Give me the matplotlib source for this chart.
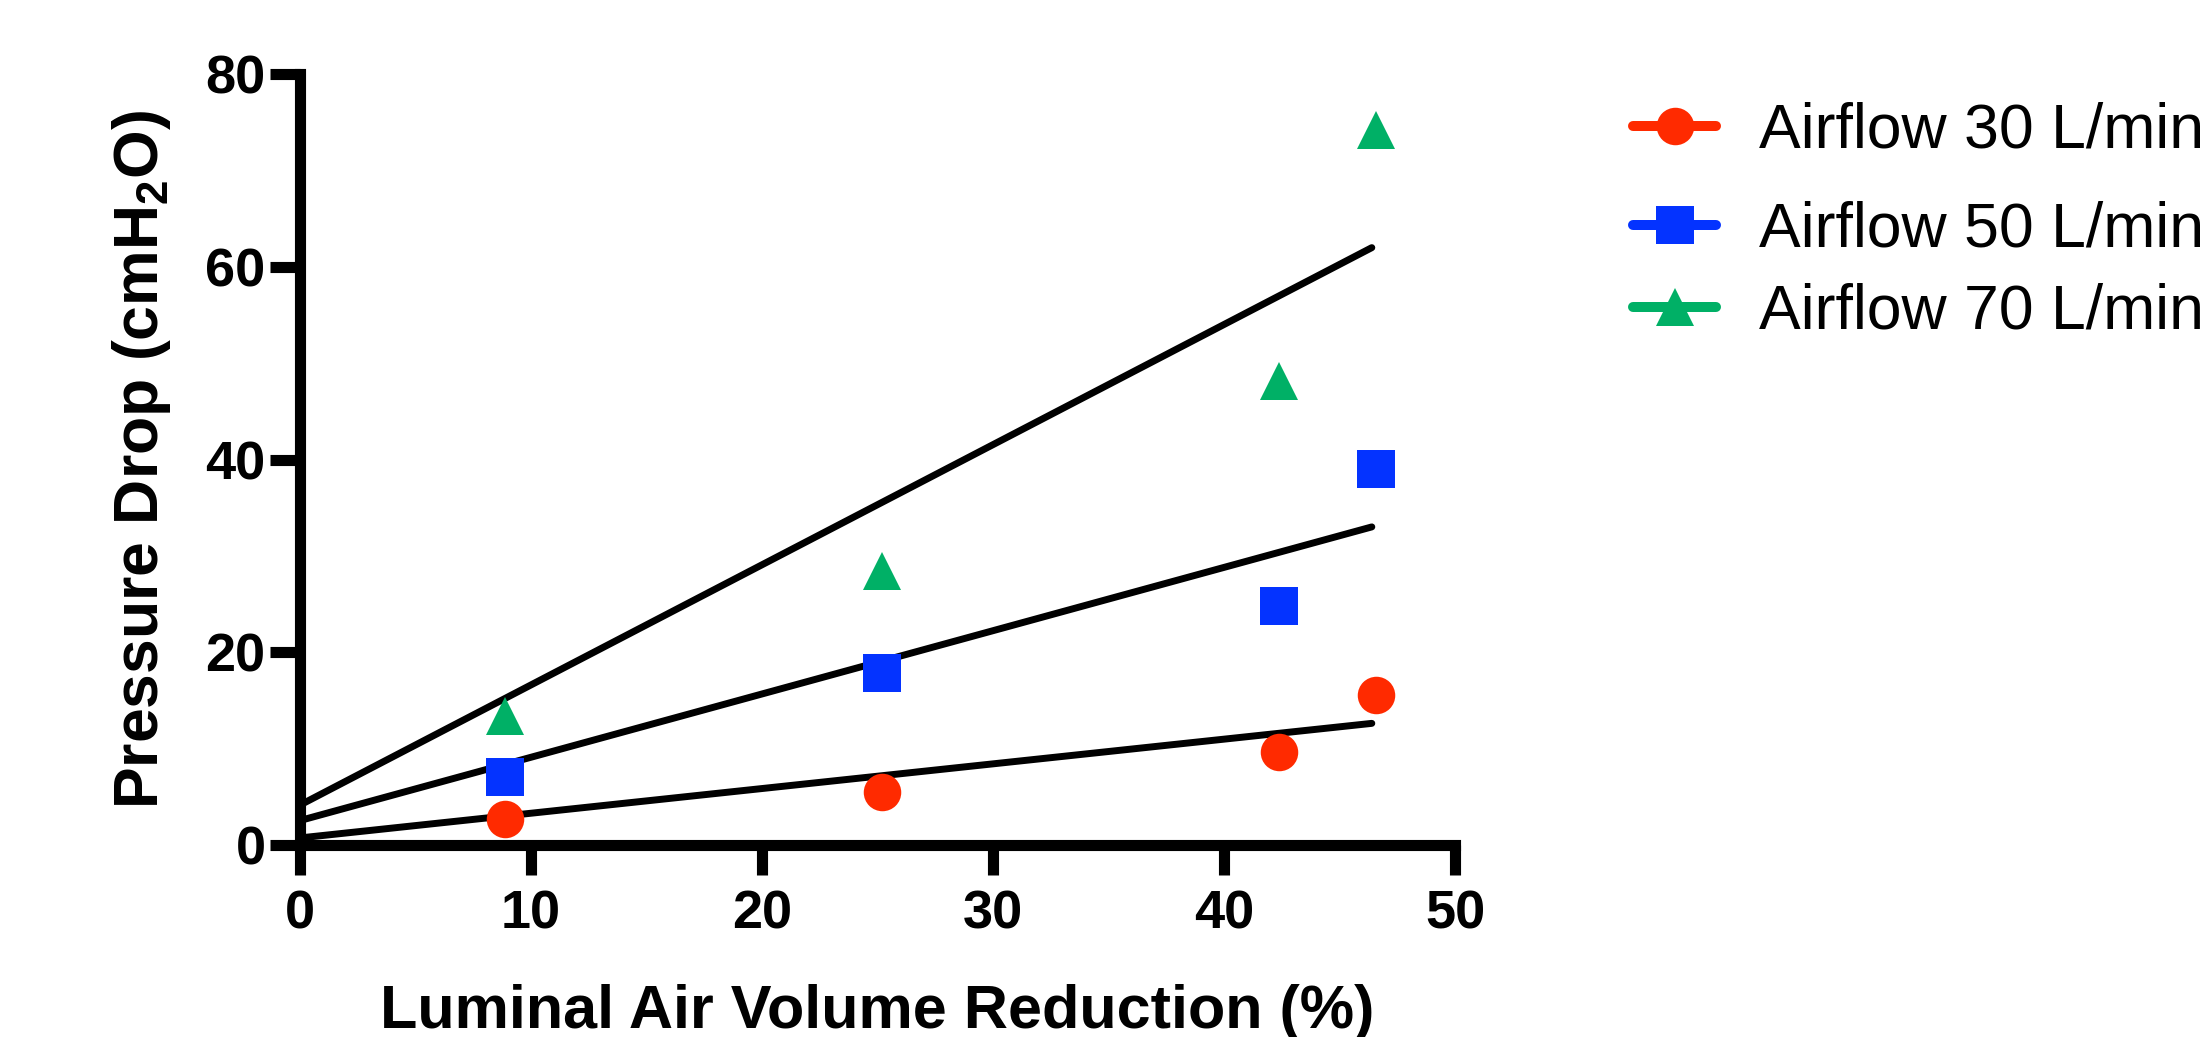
import numpy as np
import matplotlib
matplotlib.use("Agg")
import matplotlib.pyplot as plt
from matplotlib.lines import Line2D

plt.rcParams['font.family'] = ['Liberation Sans', 'DejaVu Sans']
plt.rcParams['mathtext.fontset'] = 'custom'
plt.rcParams['mathtext.rm'] = 'Liberation Sans'
plt.rcParams['mathtext.bf'] = 'Liberation Sans:bold'

# data
reduction = [8.9, 25.2, 42.4, 46.6]          # luminal air volume reduction (%)
drop_30 = [2.7, 5.5, 9.6, 15.5]              # pressure drop, airflow 30 L/min
drop_50 = [7.0, 17.8, 24.8, 39.0]            # airflow 50 L/min
drop_70 = [13.4, 28.4, 48.2, 74.2]           # airflow 70 L/min

# fitted lines (start / end values)
fit_x = [0, 46.4]
fit_30 = [0.7, 12.6]
fit_50 = [2.5, 33.0]
fit_70 = [4.1, 62.0]

labels = ['Airflow 30 L/min', 'Airflow 50 L/min', 'Airflow 70 L/min']
colors = ['#FF2A00', '#0433FF', '#00B066']
markers = ['o', 's', '^']
xticks = [0, 10, 20, 30, 40, 50]
yticks = [0, 20, 40, 60, 80]

W, H = 2210, 1037
fig = plt.figure(figsize=(W / 100, H / 100), dpi=100)
ax = fig.add_axes([299.7 / W, 1 - 844.7 / H, 1155.3 / W, 770.4 / H])

# regression lines
for fy in [fit_30, fit_50, fit_70]:
    ax.plot(fit_x, fy, color='black', lw=5, solid_capstyle='round', zorder=2)

# data points
for ys, c, m in zip([drop_30, drop_50, drop_70], colors, markers):
    ax.plot(reduction, ys, ls='none', marker=m, ms=27, color=c,
            markeredgewidth=0, clip_on=False, zorder=3)

ax.set_xlim(0, 50)
ax.set_ylim(0, 80)
ax.set_xticks(xticks)
ax.set_yticks(yticks)

for s in ['top', 'right']:
    ax.spines[s].set_visible(False)
for s in ['left', 'bottom']:
    ax.spines[s].set_linewidth(8)
ax.tick_params(axis='both', direction='out', length=21.6, width=8,
               labelsize=39)
ax.tick_params(axis='x', pad=11)
ax.tick_params(axis='y', pad=3)
for lab in ax.get_xticklabels() + ax.get_yticklabels():
    lab.set_fontweight('bold')

ax.set_xlabel('Luminal Air Volume Reduction (%)', fontsize=44,
              fontweight='bold', va='baseline')
ax.xaxis.set_label_coords(0.5, -0.238)
ax.set_ylabel(r'Pressure Drop (cmH$_\mathbf{2}$O)', fontsize=45,
              fontweight='bold')
ax.yaxis.set_label_coords(-0.11, 0.5)

# legend, one row at a time to keep the original spacing
row_y = [131, 230, 312]
for lab, c, m, ry in zip(labels, colors, markers, row_y):
    h = Line2D([], [], color=c, marker=m, ms=27, lw=7.2,
               markeredgewidth=0, solid_capstyle='round')
    fig.legend(handles=[h], labels=[lab], loc='center left',
               bbox_to_anchor=(1633 / W, 1 - ry / H), frameon=False,
               borderpad=0, borderaxespad=0, handlelength=1.33,
               handletextpad=0.68, fontsize=45)

fig.savefig('out.png', dpi=100)
